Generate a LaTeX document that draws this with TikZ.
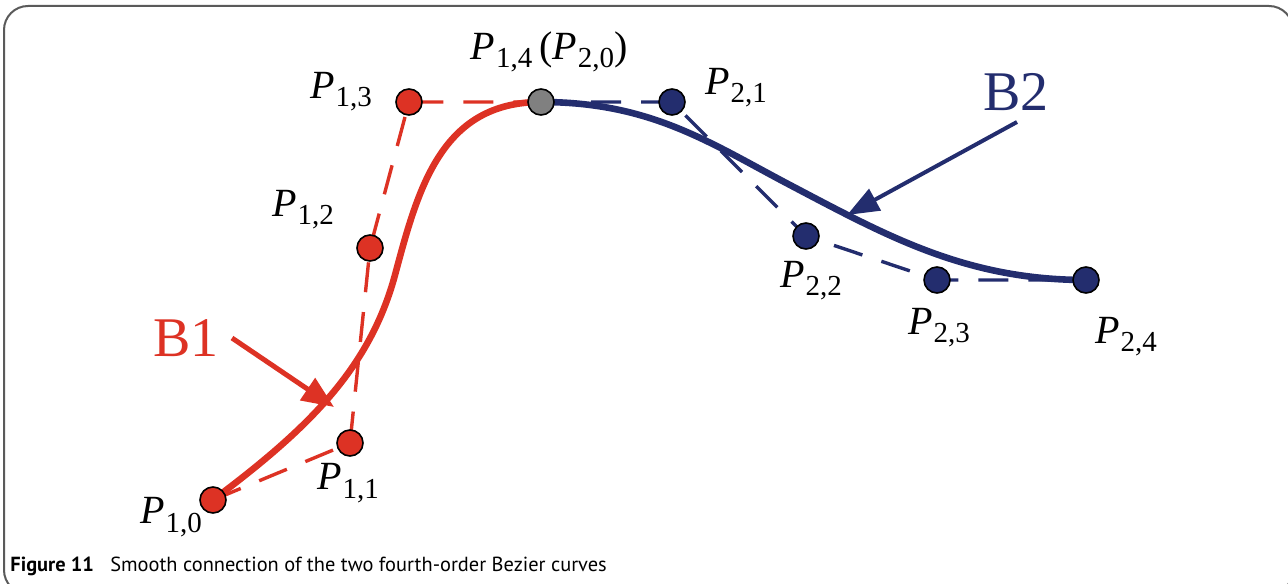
\documentclass[tikz,border=0pt]{standalone}
\usepackage{fontspec}
\setmainfont{Liberation Serif}
\newfontfamily\capfont{PT Sans}
\usetikzlibrary{arrows.meta}
\definecolor{bred}{RGB}{221,50,36}
\definecolor{bnavy}{RGB}{35,45,110}
\definecolor{bgrey}{RGB}{128,128,128}
\definecolor{framegrey}{RGB}{90,90,90}
\tikzset{
  pt/.style={circle,draw=black,line width=0.8pt,minimum size=13pt,inner sep=0pt},
  redpt/.style={pt,fill=bred},
  bluept/.style={pt,fill=bnavy},
  greypt/.style={pt,fill=bgrey},
  redcurve/.style={draw=bred,line width=3.3pt},
  bluecurve/.style={draw=bnavy,line width=3.3pt},
  reddash/.style={draw=bred,line width=1.7pt,dash pattern=on 15pt off 10pt},
  bluedash/.style={draw=bnavy,line width=1.7pt,dash pattern=on 15pt off 10pt},
  lbl/.style={inner sep=0pt,font=\fontsize{20}{21}\selectfont},
  curvename/.style={inner sep=0pt,font=\fontsize{28}{30}\selectfont},
}
\newcommand{\Plab}[1]{\textit{P}\kern0.5pt\raisebox{-0.45ex}{\fontsize{14.5}{15}\selectfont #1}}

\begin{document}
\begin{tikzpicture}[x=0.5pt,y=-0.5pt]
        \clip (0,0) rectangle (1288,583);
        \draw[framegrey,line width=1pt,rounded corners=12] (4,6) rectangle (1293,594);

        \coordinate (P10) at (213,500);   \coordinate (P11) at (350,443);
        \coordinate (P12) at (370,248);   \coordinate (P13) at (409,102);
        \coordinate (P14) at (541,102);
        \coordinate (P21) at (672,102);   \coordinate (P22) at (806,236);
        \coordinate (P23) at (937,280);   \coordinate (P24) at (1086,280);
        \coordinate (M1) at (395,275);    \coordinate (M2) at (790,185);

        % control polygons
        \draw[reddash] (P10)--(P11)--(P12)--(P13)--(P14);
        \draw[bluedash] (P14)--(P21)--(P22)--(P23)--(P24);

        % the two curves
        \draw[redcurve] (P10) .. controls (305,431) and (369,371) .. (M1)
                              .. controls (418,189) and (441,102) .. (P14);
        \draw[bluecurve] (P14) .. controls (651,102) and (710,143) .. (M2)
                               .. controls (887,236) and (966,280) .. (P24);

        \node[redpt] (p10) at (P10) {};   \node[redpt] (p11) at (P11) {};
        \node[redpt] (p12) at (P12) {};   \node[redpt] (p13) at (P13) {};
        \node[greypt] (p14) at (P14) {};
        \node[bluept] (p21) at (P21) {};  \node[bluept] (p22) at (P22) {};
        \node[bluept] (p23) at (P23) {};  \node[bluept] (p24) at (P24) {};

        \node[lbl] (l10) at (171,517) {\Plab{1,0}};
        \node[lbl] (l11) at (348,483) {\Plab{1,1}};
        \node[lbl] (l12) at (303,210) {\Plab{1,2}};
        \node[lbl] (l13) at (341,92) {\Plab{1,3}};
        \node[lbl] (l14) at (549,52) {\Plab{1,4}\,(\Plab{2,0})};
        \node[lbl] (l21) at (736,88) {\Plab{2,1}};
        \node[lbl] (l22) at (811,281) {\Plab{2,2}};
        \node[lbl] (l23) at (939,328) {\Plab{2,3}};
        \node[lbl] (l24) at (1126,337) {\Plab{2,4}};

        % curve names and arrows
        \node[curvename,text=bred] (B1) at (186,338) {B1};
        \node[curvename,text=bnavy] (B2) at (1016,92) {B2};
        \coordinate (b1s) at (232,338);   \coordinate (b1e) at (334,407);
        \coordinate (b2s) at (1017,122);  \coordinate (b2e) at (847,215);
        \draw[bred,line width=2.5pt,-{Triangle[length=16pt,width=13pt]}] (b1s) -- (b1e);
        \draw[bnavy,line width=2pt,-{Triangle[length=16pt,width=12pt]}] (b2s) -- (b2e);

        \node[anchor=base west,inner sep=0pt,font=\capfont\fontsize{10.2}{12}\selectfont] (cap) at (10,571)
            {\textbf{Figure 11}\hspace{0.8em}Smooth connection of the two fourth-order Bezier curves};
\end{tikzpicture}
\end{document}
